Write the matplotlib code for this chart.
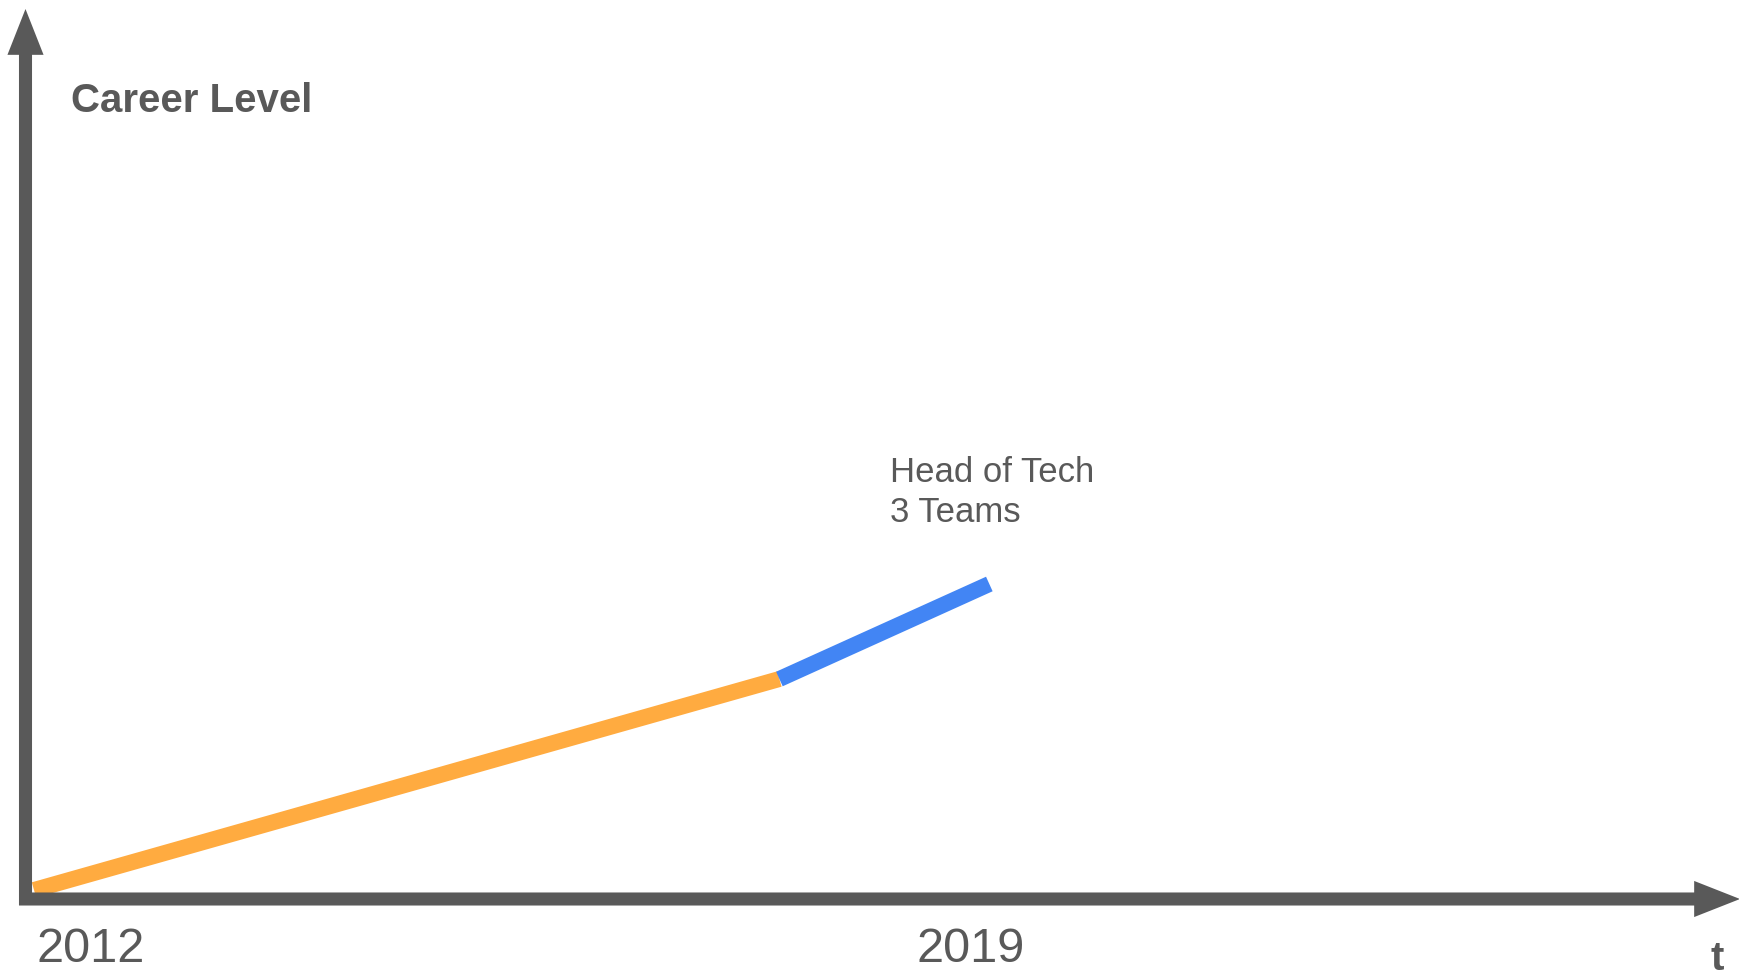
import matplotlib.pyplot as plt

# -----------------------------
# Data
# -----------------------------
years = [2012, 2017.93, 2019.6]
level = [0.09, 2.2, 3.15]
seg_colors = ["#FFAB40", "#4285F4"]
tick_years = [2012, 2019]
note_lines = ["Head of Tech", "3 Teams"]
note_year = 2018.81
note_level = [4.17, 3.77]

gray = "#595959"
plt.rcParams['font.family'] = ['Liberation Sans', 'DejaVu Sans']

# -----------------------------
# Figure
# -----------------------------
W, H = 1740, 975
fig = plt.figure(figsize=(W / 100, H / 100), dpi=100)
ax = fig.add_axes([0, 0, 1, 1])
ax.set_xlim(2011.7295, 2025.572)
ax.set_ylim(-0.76, 8.99)
ax.axis("off")

# career path segments
for i in range(len(seg_colors)):
    ax.plot(years[i:i + 2], level[i:i + 2], color=seg_colors[i], lw=11.5,
            solid_capstyle="butt", zorder=2 + i)

# axis arrows (figure pixels)
arrow = dict(width=9.4, headwidth=26, headlength=33, shrink=0,
             color=gray, lw=0)
ax.annotate("", xy=(1740, 76), xytext=(19, 76), xycoords="figure pixels",
            textcoords="figure pixels", arrowprops=arrow, zorder=5)
ax.annotate("", xy=(25.5, 966), xytext=(25.5, 70), xycoords="figure pixels",
            textcoords="figure pixels", arrowprops=arrow, zorder=5)

# labels
for y in tick_years:
    ax.text(y + 0.02, -0.63, str(y), fontsize=35, color=gray, ha="left",
            va="baseline")

for txt, lv in zip(note_lines, note_level):
    ax.text(note_year, lv, txt, fontsize=25, color=gray, ha="left",
            va="baseline")

fig.text(71.5 / W, 863 / H, "Career Level", fontsize=29, fontweight="bold",
         color=gray, ha="left", va="baseline")
fig.text(1711 / W, 5 / H, "t", fontsize=29, fontweight="bold",
         color=gray, ha="left", va="baseline")

fig.savefig("out.png", dpi=100)
